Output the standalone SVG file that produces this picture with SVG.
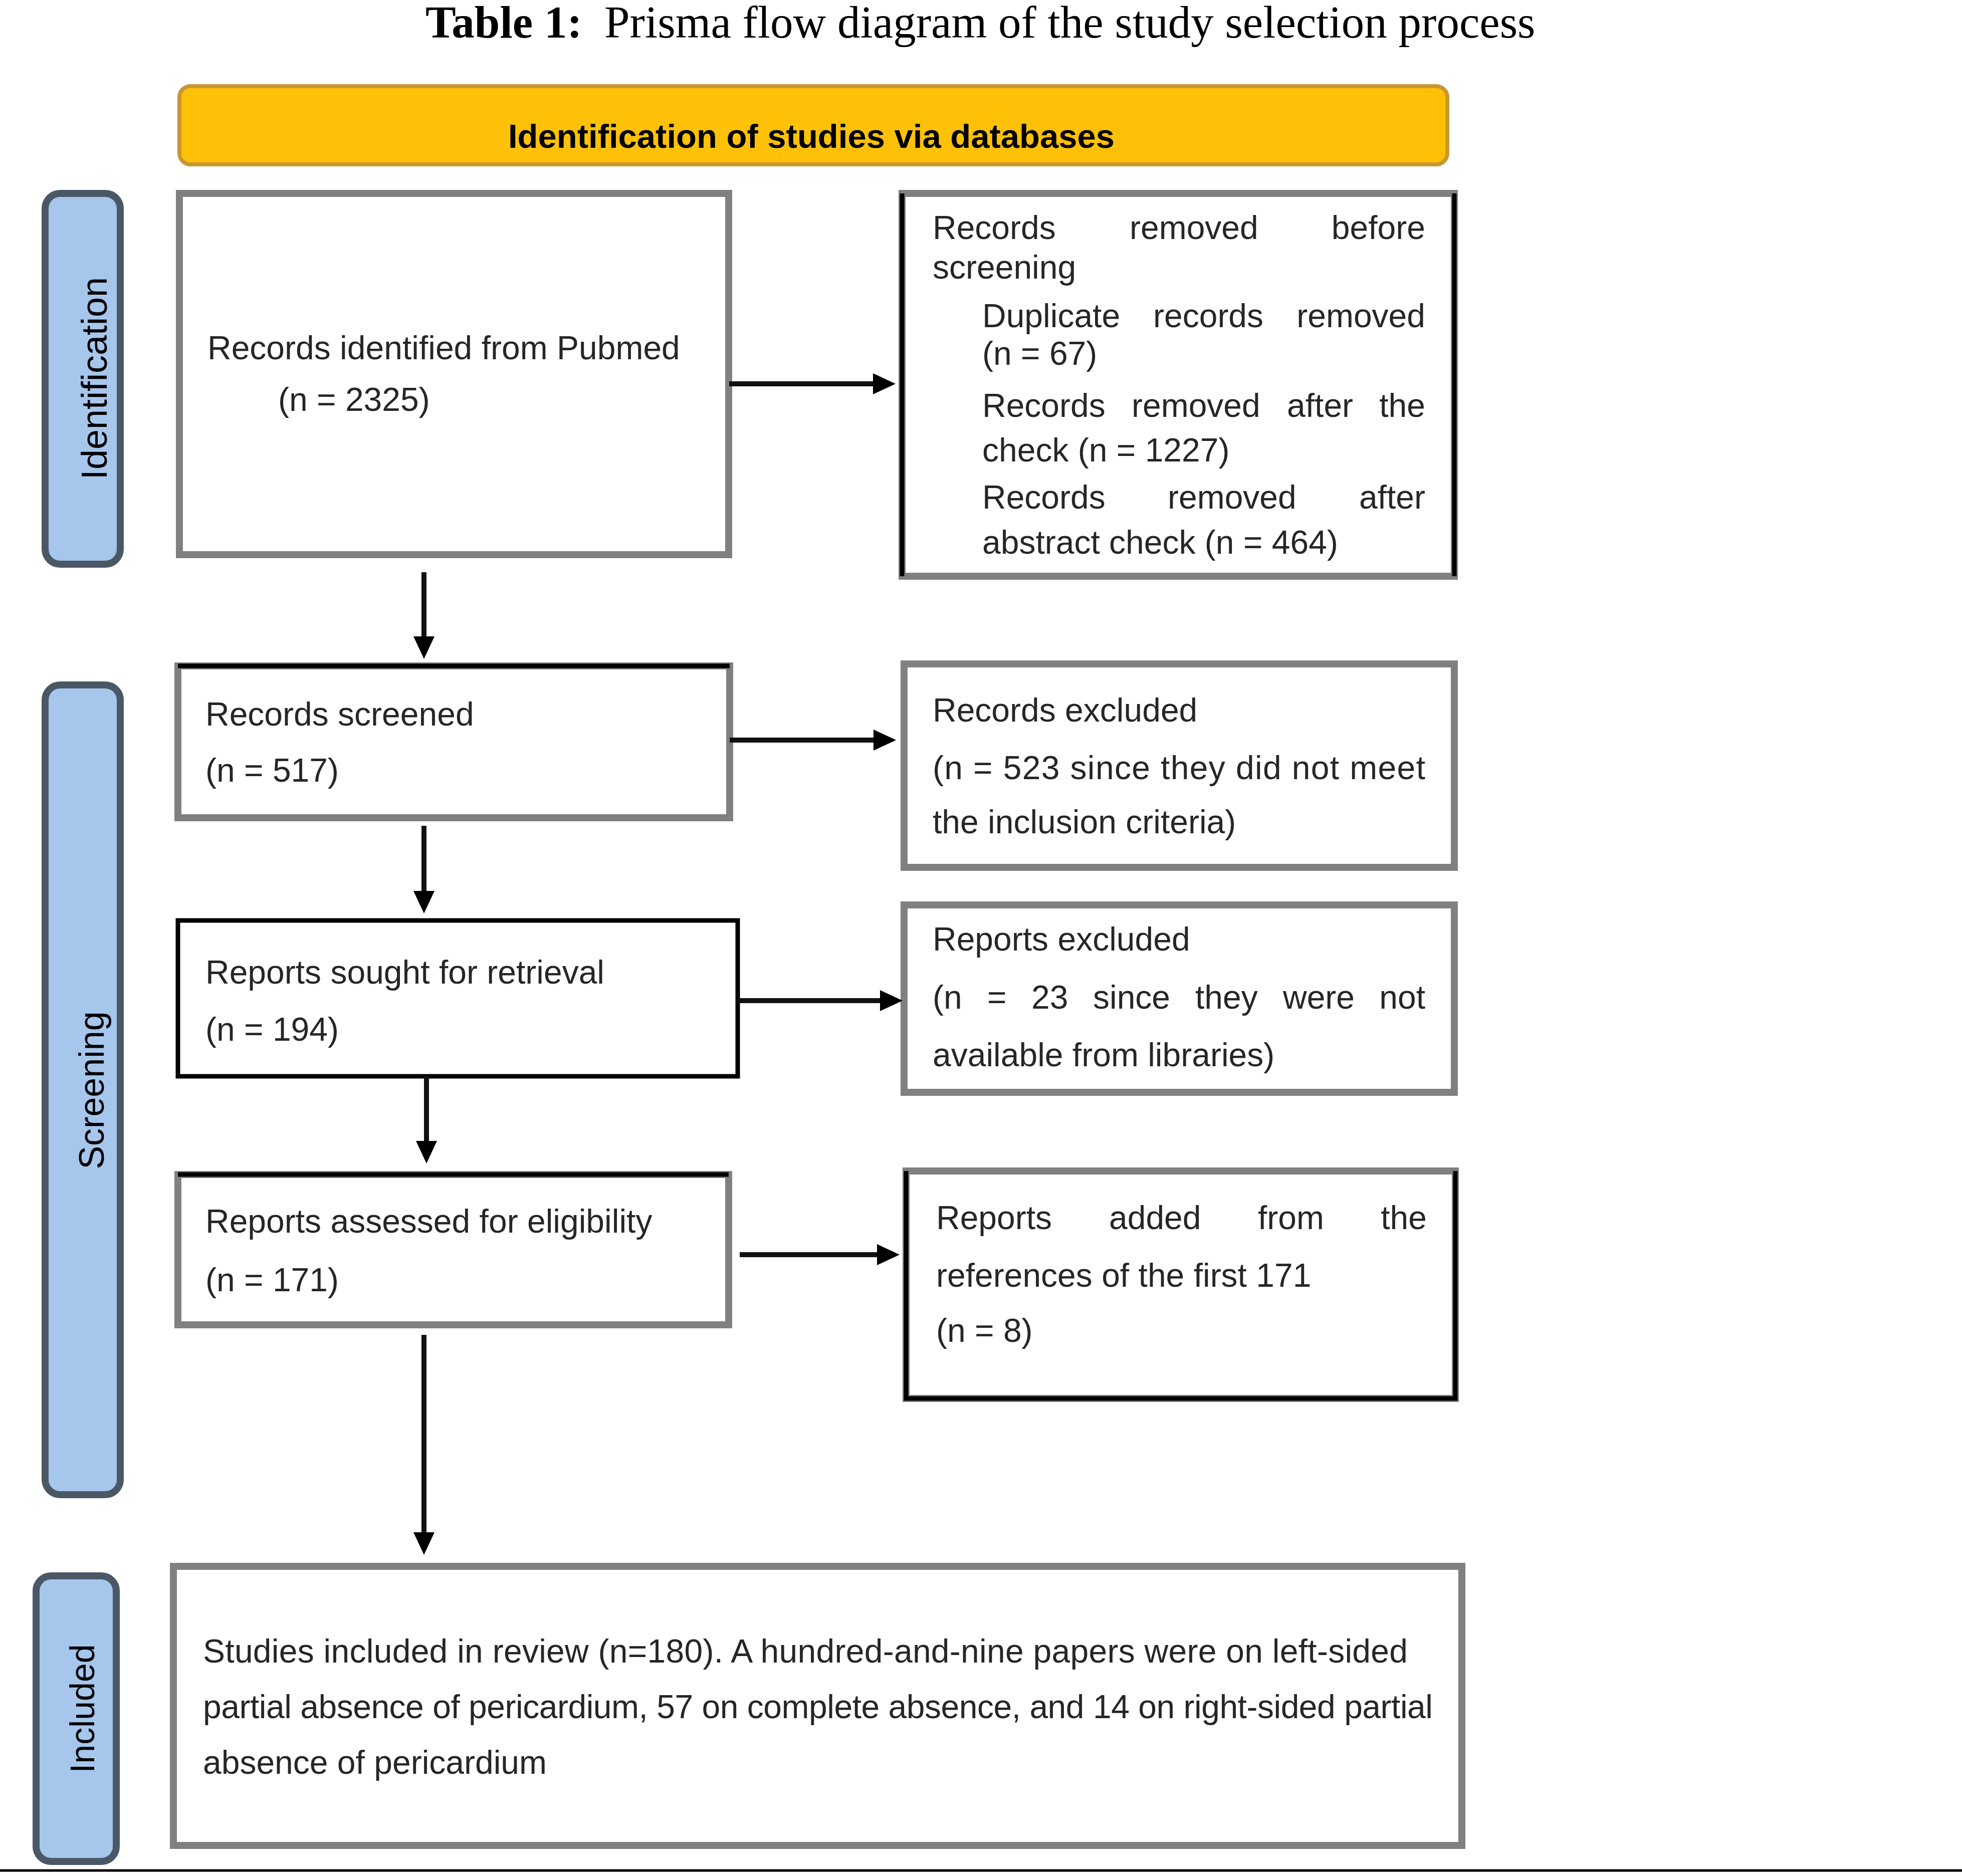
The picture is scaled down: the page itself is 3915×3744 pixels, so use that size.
<svg xmlns="http://www.w3.org/2000/svg" width="3915" height="3744" viewBox="0 0 3915 3744">
<style>
.box{fill:#ffffff;stroke:#808080;stroke-width:14}
.blk{stroke:#000;stroke-width:9;fill:none}
.t{font-family:"Liberation Sans",Arial,sans-serif;font-size:66px;fill:#262626}
.side{fill:#A6C6EC;stroke:#4a5866;stroke-width:14}
.st{font-family:"Liberation Sans",Arial,sans-serif;fill:#000}
.conn{stroke:#111;stroke-width:10;fill:none;marker-end:url(#ah)}
</style>
<defs>
<marker id="ah" markerUnits="userSpaceOnUse" viewBox="0 0 45 42" refX="20" refY="21" markerWidth="45" markerHeight="42" orient="auto">
<path d="M0,0 L45,21 L0,42 Z" fill="#000"/>
</marker>
</defs>
<rect width="3915" height="3744" fill="#ffffff"/>

<g id="title">
<text x="849" y="75" font-family="'Liberation Serif','Times New Roman',serif" font-size="91" fill="#000"><tspan font-weight="bold">Table 1:</tspan><tspan x="1206">Prisma flow diagram of the study selection process</tspan></text>
</g>

<g id="banner">
<rect x="358" y="172" width="2530" height="156" rx="22" fill="#FFC107" stroke="#C9962F" stroke-width="8"/>
<text x="1619" y="295" text-anchor="middle" font-family="'Liberation Sans',Arial,sans-serif" font-weight="bold" font-size="67" fill="#000">Identification of studies via databases</text>
</g>

<g id="lbl-identification">
<rect class="side" x="90" y="386" width="150" height="740" rx="30"/>
<text class="st" font-size="72" text-anchor="middle" transform="translate(213,755) rotate(-90)">Identification</text>
</g>
<g id="lbl-screening">
<rect class="side" x="90" y="1367" width="150" height="1616" rx="30"/>
<text class="st" font-size="70" text-anchor="middle" transform="translate(207,2176) rotate(-90)">Screening</text>
</g>
<g id="lbl-included">
<rect class="side" x="72" y="3145" width="160" height="570" rx="30"/>
<text class="st" font-size="68" text-anchor="middle" transform="translate(188,3410) rotate(-90)">Included</text>
</g>

<g id="box-identified">
<rect class="box" x="358" y="386" width="1096" height="721"/>
<text class="t" x="414" y="717">Records identified from Pubmed</text>
<text class="t" x="555" y="820">(n = 2325)</text>
</g>

<g id="box-removed">
<rect class="box" x="1800" y="386" width="1102" height="764"/>
<path class="blk" d="M1800,386 V1150 M2902,386 V1150"/>
<text class="t" y="477"><tspan x="1861">Records</tspan><tspan x="2254">removed</tspan><tspan x="2844" text-anchor="end">before</tspan></text>
<text class="t" x="1861" y="556">screening</text>
<text class="t" y="653"><tspan x="1960">Duplicate</tspan><tspan x="2301">records</tspan><tspan x="2844" text-anchor="end">removed</tspan></text>
<text class="t" x="1960" y="728">(n = 67)</text>
<text class="t" y="832"><tspan x="1960">Records</tspan><tspan x="2258">removed</tspan><tspan x="2568">after</tspan><tspan x="2844" text-anchor="end">the</tspan></text>
<text class="t" x="1960" y="921">check (n = 1227)</text>
<text class="t" y="1015"><tspan x="1960">Records</tspan><tspan x="2330">removed</tspan><tspan x="2844" text-anchor="end">after</tspan></text>
<text class="t" x="1960" y="1105">abstract check (n = 464)</text>
</g>

<g id="box-screened">
<rect class="box" x="355" y="1329" width="1101" height="303"/>
<path class="blk" d="M355,1329 H1456"/>
<text class="t" x="410" y="1448">Records screened</text>
<text class="t" x="410" y="1560">(n = 517)</text>
</g>

<g id="box-excluded">
<rect class="box" x="1804" y="1325" width="1098" height="406"/>
<text class="t" x="1861" y="1440">Records excluded</text>
<text class="t" x="1861" y="1555" textLength="983" lengthAdjust="spacing">(n = 523 since they did not meet</text>
<text class="t" x="1861" y="1663">the inclusion criteria)</text>
</g>

<g id="box-sought">
<rect class="box" x="355" y="1837" width="1117" height="311" style="stroke:#000;stroke-width:9"/>
<text class="t" x="410" y="1963">Reports sought for retrieval</text>
<text class="t" x="410" y="2077">(n = 194)</text>
</g>

<g id="box-rep-excluded">
<rect class="box" x="1804" y="1806" width="1098" height="374"/>
<text class="t" x="1861" y="1897">Reports excluded</text>
<text class="t" y="2013"><tspan x="1861">(n</tspan><tspan x="1970">=</tspan><tspan x="2058">23</tspan><tspan x="2181">since</tspan><tspan x="2385">they</tspan><tspan x="2560">were</tspan><tspan x="2844" text-anchor="end">not</tspan></text>
<text class="t" x="1861" y="2128">available from libraries)</text>
</g>

<g id="box-assessed">
<rect class="box" x="355" y="2344" width="1099" height="300"/>
<path class="blk" d="M355,2344 H1454"/>
<text class="t" x="410" y="2460">Reports assessed for eligibility</text>
<text class="t" x="410" y="2577">(n = 171)</text>
</g>

<g id="box-added">
<rect class="box" x="1808" y="2337" width="1096" height="454"/>
<path class="blk" d="M1808,2337 V2791 H2904 V2337"/>
<text class="t" y="2453"><tspan x="1868">Reports</tspan><tspan x="2213">added</tspan><tspan x="2510">from</tspan><tspan x="2847" text-anchor="end">the</tspan></text>
<text class="t" x="1868" y="2568">references of the first 171</text>
<text class="t" x="1868" y="2678">(n = 8)</text>
</g>

<g id="box-included">
<rect class="box" x="346" y="3126" width="2571" height="557"/>
<text class="t" x="405" y="3318" textLength="2404" lengthAdjust="spacing">Studies included in review (n=180). A hundred-and-nine papers were on left-sided</text>
<text class="t" x="405" y="3429" textLength="2454" lengthAdjust="spacing">partial absence of pericardium, 57 on complete absence, and 14 on right-sided partial</text>
<text class="t" x="405" y="3540">absence of pericardium</text>
</g>

<g id="connectors">
<path class="conn" d="M1455,766 H1762"/>
<path class="conn" d="M846,1142 V1290"/>
<path class="conn" d="M1456,1477 H1763"/>
<path class="conn" d="M846,1648 V1798"/>
<path class="conn" d="M1472,1997 H1776"/>
<path class="conn" d="M851,2148 V2297"/>
<path class="conn" d="M1476,2504 H1770"/>
<path class="conn" d="M846,2664 V3078"/>
</g>

<line x1="0" y1="3733" x2="3915" y2="3733" stroke="#000" stroke-width="5"/>
</svg>
